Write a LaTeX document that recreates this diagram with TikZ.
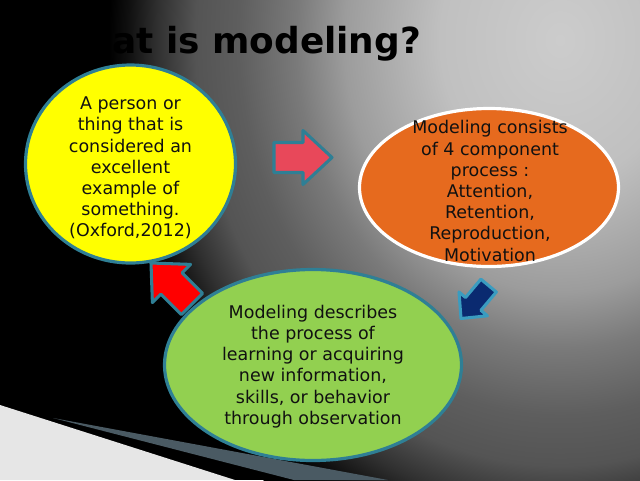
\documentclass[tikz,border=0pt]{standalone}
\usepackage{fontspec}
\setmainfont{DejaVu Sans}
\usetikzlibrary{shapes.geometric}
\definecolor{glowA}{HTML}{CCCCCC}
\definecolor{glowB}{HTML}{C0C0C0}
\definecolor{glowC}{HTML}{9C9C9C}
\definecolor{glowD}{HTML}{7A7A7A}
\definecolor{glowE}{HTML}{5E5E5E}
\definecolor{glowF}{HTML}{545454}
\definecolor{glowG}{HTML}{303030}
\definecolor{glowH}{HTML}{101010}
\definecolor{yfill}{HTML}{FFFF00}
\definecolor{ofill}{HTML}{E66A1E}
\definecolor{gfill}{HTML}{92D050}
\definecolor{tealb}{HTML}{2F7F95}
\definecolor{pinkar}{HTML}{E8485A}
\definecolor{redar}{HTML}{FF0000}
\definecolor{navyar}{HTML}{0A2A70}
\definecolor{cyanb}{HTML}{3A9CC0}
\definecolor{slate}{HTML}{4A5A63}
\definecolor{paleg}{HTML}{E6E6E6}
\definecolor{inktext}{HTML}{111111}
\pgfdeclareradialshading{bgglow}{\pgfpoint{0bp}{0bp}}{color(0bp)=(glowA); color(6.25bp)=(glowB); color(11.25bp)=(glowC); color(13.75bp)=(glowD); color(16.75bp)=(glowE); color(19bp)=(glowF); color(21bp)=(glowG); color(22.5bp)=(glowH); color(23.5bp)=(black); color(50bp)=(black)}
\begin{document}
\begin{tikzpicture}[x=0.75pt,y=-0.75pt,
  bubble/.style={ellipse, inner sep=0pt, line width=2.4pt},
  bubbletext/.style={align=center, inner sep=0pt, text=inktext,
    font={\fontsize{13.1pt}{15.9pt}\selectfont}},
  blockarrow/.style={line width=2.3pt, line join=round}]
\useasboundingbox (0,0) rectangle (640,480);
% background
\fill[black] (0,0) rectangle (640,480);
\begin{scope}
  \clip (0,0) rectangle (640,480);
  \shade[shading=bgglow] (560,40) ellipse [x radius=480, y radius=560];
\end{scope}
\fill[paleg] (0,405) -- (235,480) -- (0,480) -- cycle;
\fill[slate] (53,418) -- (388,480) -- (294,480) -- cycle;
% title
\node[anchor=base west, inner sep=0pt, text=black,
  font={\fontsize{26.9pt}{30pt}\selectfont\bfseries}] (title) at (47,53) {What is modeling?};
% arrows
\draw[blockarrow, draw=tealb, fill=pinkar]
  (274,142.5) -- (303,142.5) -- (303,130.5) -- (332,157.5) -- (303,184.5) -- (303,172.5) -- (274,172.5) -- cycle;
\draw[blockarrow, draw=tealb, fill=redar]
  (202.6,293.4) -- (182.1,272.9) -- (190.6,264.4) -- (151,263) -- (152.4,302.6) -- (160.9,294.1) -- (181.4,314.6) -- cycle;
\draw[blockarrow, draw=cyanb, fill=navyar]
  (496.3,292.0) -- (480.9,310.3) -- (487.4,315.8) -- (461,318.5) -- (459.0,292.0) -- (465.5,297.5) -- (480.9,279.2) -- cycle;
% bubbles
\node[bubble, draw=tealb, fill=yfill, minimum width=157.5pt, minimum height=148.5pt] (yellow) at (130.5,164) {};
\node[bubble, draw=white, fill=ofill, minimum width=194.25pt, minimum height=118.5pt] (orange) at (489,187.5) {};
\node[bubble, draw=tealb, fill=gfill, minimum width=222.75pt, minimum height=143.25pt] (green) at (313,365) {};
\node[bubbletext] (ytext) at (130.5,168) {A person or\\thing that is\\considered an\\excellent\\example of\\something.\\(Oxford,2012)};
\node[bubbletext] (otext) at (490,191) {Modeling consists\\of 4 component\\process :\\Attention,\\Retention,\\Reproduction,\\Motivation};
\node[bubbletext] (gtext) at (313,366.5) {Modeling describes\\the process of\\learning or acquiring\\new information,\\skills, or behavior\\through observation};
\end{tikzpicture}
\end{document}
